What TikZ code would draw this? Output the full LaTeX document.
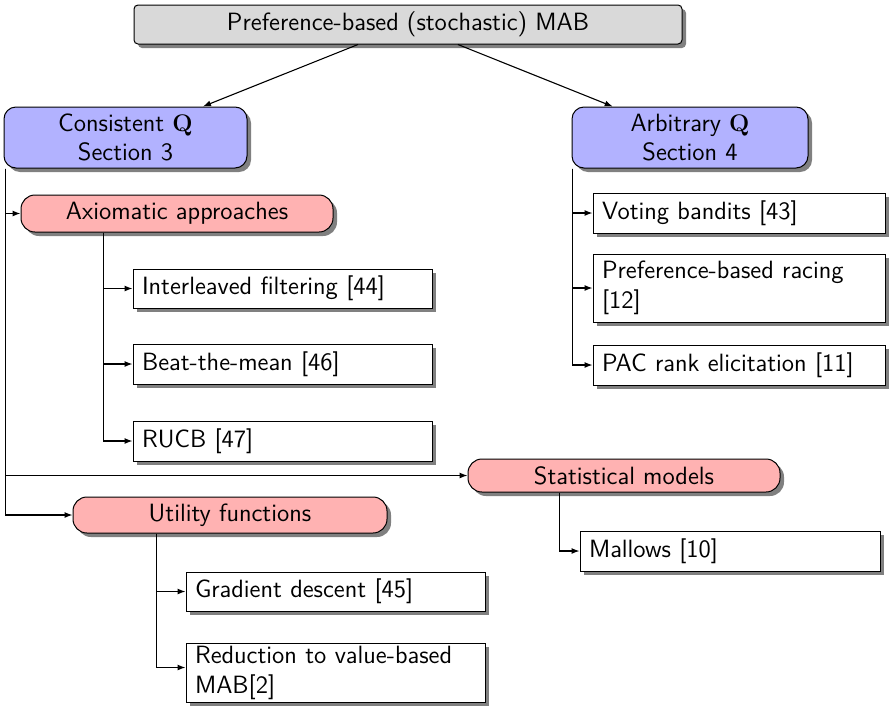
\documentclass[tikz,border=0pt]{standalone}
\usetikzlibrary{shadows,arrows.meta,calc}
\begin{document}
\begin{tikzpicture}[x=0.5pt,y=-0.5pt]
\tikzset{
 every node/.style={font=\sffamily\fontsize{12.5}{14.5}\selectfont},
 shad/.style={drop shadow={shadow xshift=2pt,shadow yshift=-2pt,fill=black!50,opacity=1}},
 topbox/.style={draw, fill=gray!30, rounded corners=2pt, shad, inner sep=0pt, line width=0.5pt},
 secbox/.style={draw, fill=blue!30, rounded corners=6pt, shad, align=center, inner sep=0pt, line width=0.5pt},
 catbox/.style={draw, fill=red!30, rounded corners=7pt, shad, inner sep=0pt, line width=0.5pt},
 leafbox/.style={draw, fill=white, shad, align=left, inner xsep=4.5pt, inner ysep=0pt, line width=0.5pt, font=\sffamily\fontsize{12.5}{15}\selectfont},
 arr/.style={-{Latex[length=4pt,width=3pt]}, line width=0.55pt},
}
\useasboundingbox (0,0) rectangle (894,707);

\node[topbox, minimum width=274pt, minimum height=19.5pt] (top) at (408,24.5) {Preference-based (stochastic) MAB};

\node[secbox, minimum width=121.5pt, minimum height=30.5pt] (cons) at (125.5,137.5) {Consistent $\mathbf{Q}$\\Section 3};
\node[secbox, minimum width=118pt, minimum height=30.5pt] (arb) at (690,137.5) {Arbitrary $\mathbf{Q}$\\Section 4};

\node[catbox, minimum width=156pt, minimum height=18.5pt] (axi) at (177,213.5) {Axiomatic approaches};
\node[catbox, minimum width=156pt, minimum height=16.5pt] (stat) at (624,475.5) {Statistical models};
\node[catbox, minimum width=157pt, minimum height=18pt] (util) at (230,515) {Utility functions};

\node[leafbox, text width=140.5pt, minimum height=19.5pt] (il) at (282.5,288.5) {Interleaved filtering [44]};
\node[leafbox, text width=140.5pt, minimum height=20pt] (btm) at (282.5,364) {Beat-the-mean [46]};
\node[leafbox, text width=140.5pt, minimum height=20pt] (rucb) at (282.5,441) {RUCB [47]};

\node[leafbox, text width=137pt, minimum height=20pt] (vote) at (739,213) {Voting bandits [43]};
\node[leafbox, text width=137pt, minimum height=34pt] (race) at (739,288) {Preference-based racing\\{[12]}};
\node[leafbox, text width=137pt, minimum height=20pt] (pac) at (739,365) {PAC rank elicitation [11]};

\node[leafbox, text width=141pt, minimum height=20pt] (mal) at (730,551) {Mallows [10]};

\node[leafbox, text width=140.5pt, minimum height=19.5pt] (grad) at (335.5,591.5) {Gradient descent [45]};
\node[leafbox, text width=140.5pt, minimum height=29.5pt] (red) at (335.5,672.5) {Reduction to value-based\\MAB[2]};

\draw[arr] (top) -- (cons);
\draw[arr] (top) -- (arb);

\coordinate (cb) at ($(cons.south west)+(2,0)$);
\draw[arr] (cb) |- (axi.west);
\draw[arr] (cb) |- (stat.west);
\draw[arr] (cb) |- (util.west);

\coordinate (ab) at ($(axi.south west)+(83,0)$);
\draw[arr] (ab) |- (il.west);
\draw[arr] (ab) |- (btm.west);
\draw[arr] (ab) |- (rucb.west);

\coordinate (rb) at ($(arb.south west)+(1,0)$);
\draw[arr] (rb) |- (vote.west);
\draw[arr] (rb) |- (race.west);
\draw[arr] (rb) |- (pac.west);

\coordinate (sb) at ($(stat.south west)+(92,0)$);
\draw[arr] (sb) |- (mal.west);

\coordinate (ub) at ($(util.south west)+(84,0)$);
\coordinate (redin) at ($(red.west)+(0,-5)$);
\draw[arr] (ub) |- (grad.west);
\draw[arr] (ub) |- (redin);
\end{tikzpicture}
\end{document}
